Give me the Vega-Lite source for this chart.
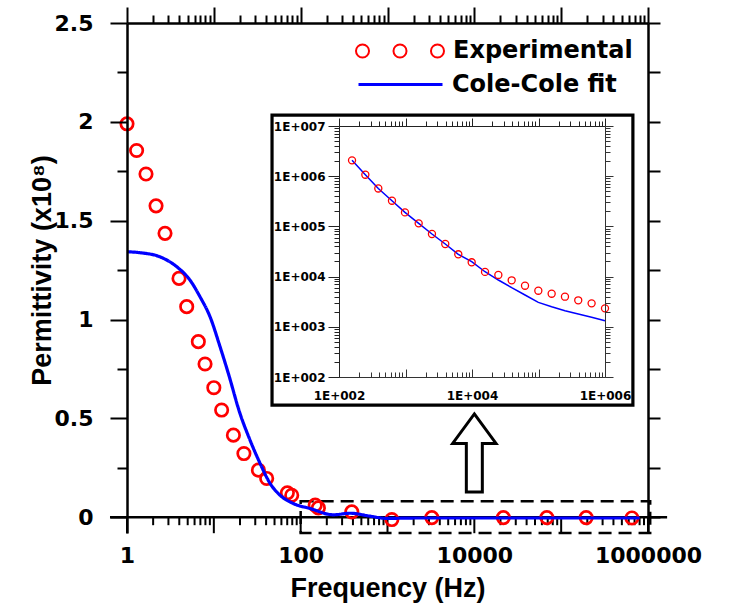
{
  "$schema": "https://vega.github.io/schema/vega-lite/v6.json",
  "width": 521,
  "height": 510,
  "autosize": {"type": "none"},
  "padding": {"left": 127, "top": 23, "right": 82, "bottom": 73},
  "background": "white",
  "config": {
    "view": {"stroke": null},
    "axis": {"grid": false, "domainColor": "black", "tickColor": "black", "labelColor": "black", "titleColor": "black", "labelFont": "DejaVu Sans", "labelFontWeight": "bold", "titleFont": "Liberation Sans", "titleFontWeight": "bold"}
  },
  "datasets": {
    "main_exp": [
      {"f": 1, "v": 1.99, "series": "Experimental"},
      {"f": 1.29, "v": 1.855, "series": "Experimental"},
      {"f": 1.655, "v": 1.736, "series": "Experimental"},
      {"f": 2.16, "v": 1.575, "series": "Experimental"},
      {"f": 2.74, "v": 1.436, "series": "Experimental"},
      {"f": 3.97, "v": 1.208, "series": "Experimental"},
      {"f": 4.87, "v": 1.065, "series": "Experimental"},
      {"f": 6.63, "v": 0.888, "series": "Experimental"},
      {"f": 7.92, "v": 0.775, "series": "Experimental"},
      {"f": 10, "v": 0.655, "series": "Experimental"},
      {"f": 12.3, "v": 0.542, "series": "Experimental"},
      {"f": 16.8, "v": 0.415, "series": "Experimental"},
      {"f": 22.2, "v": 0.322, "series": "Experimental"},
      {"f": 32.6, "v": 0.238, "series": "Experimental"},
      {"f": 40.6, "v": 0.196, "series": "Experimental"},
      {"f": 70.3, "v": 0.123, "series": "Experimental"},
      {"f": 78.9, "v": 0.111, "series": "Experimental"},
      {"f": 147, "v": 0.061, "series": "Experimental"},
      {"f": 160, "v": 0.047, "series": "Experimental"},
      {"f": 388, "v": 0.027, "series": "Experimental"},
      {"f": 1122, "v": -0.012, "series": "Experimental"},
      {"f": 3240, "v": -0.002, "series": "Experimental"},
      {"f": 21600, "v": -0.002, "series": "Experimental"},
      {"f": 68400, "v": -0.002, "series": "Experimental"},
      {"f": 194000, "v": -0.002, "series": "Experimental"},
      {"f": 653000, "v": -0.004, "series": "Experimental"}
    ],
    "main_fit": [
      {"f": 1, "v": 1.343, "series": "Cole-Cole fit"},
      {"f": 1.41, "v": 1.338, "series": "Cole-Cole fit"},
      {"f": 2.4, "v": 1.317, "series": "Cole-Cole fit"},
      {"f": 3.74, "v": 1.267, "series": "Cole-Cole fit"},
      {"f": 5.32, "v": 1.199, "series": "Cole-Cole fit"},
      {"f": 6.93, "v": 1.115, "series": "Cole-Cole fit"},
      {"f": 9.04, "v": 1.014, "series": "Cole-Cole fit"},
      {"f": 11.8, "v": 0.862, "series": "Cole-Cole fit"},
      {"f": 14.7, "v": 0.727, "series": "Cole-Cole fit"},
      {"f": 20, "v": 0.525, "series": "Cole-Cole fit"},
      {"f": 26.1, "v": 0.39, "series": "Cole-Cole fit"},
      {"f": 34.1, "v": 0.272, "series": "Cole-Cole fit"},
      {"f": 44.4, "v": 0.171, "series": "Cole-Cole fit"},
      {"f": 57.9, "v": 0.111, "series": "Cole-Cole fit"},
      {"f": 82.4, "v": 0.069, "series": "Cole-Cole fit"},
      {"f": 128, "v": 0.044, "series": "Cole-Cole fit"},
      {"f": 238, "v": 0.012, "series": "Cole-Cole fit"},
      {"f": 371, "v": 0.02, "series": "Cole-Cole fit"},
      {"f": 631, "v": 0.005, "series": "Cole-Cole fit"},
      {"f": 982, "v": -0.006, "series": "Cole-Cole fit"},
      {"f": 2375, "v": -0.004, "series": "Cole-Cole fit"},
      {"f": 800000, "v": -0.004, "series": "Cole-Cole fit"}
    ],
    "x_major": [
      {"f": 1}, {"f": 10}, {"f": 100}, {"f": 1000}, {"f": 10000}, {"f": 100000}, {"f": 1000000}
    ],
    "x_minor": [
      {"f": 2}, {"f": 3}, {"f": 4}, {"f": 5}, {"f": 6}, {"f": 7}, {"f": 8}, {"f": 9},
      {"f": 20}, {"f": 30}, {"f": 40}, {"f": 50}, {"f": 60}, {"f": 70}, {"f": 80}, {"f": 90},
      {"f": 200}, {"f": 300}, {"f": 400}, {"f": 500}, {"f": 600}, {"f": 700}, {"f": 800}, {"f": 900},
      {"f": 2000}, {"f": 3000}, {"f": 4000}, {"f": 5000}, {"f": 6000}, {"f": 7000}, {"f": 8000}, {"f": 9000},
      {"f": 20000}, {"f": 30000}, {"f": 40000}, {"f": 50000}, {"f": 60000}, {"f": 70000}, {"f": 80000}, {"f": 90000},
      {"f": 200000}, {"f": 300000}, {"f": 400000}, {"f": 500000}, {"f": 600000}, {"f": 700000}, {"f": 800000}, {"f": 900000}
    ],
    "inset_exp": [
      {"f": 157, "v": 2070000},
      {"f": 249, "v": 1070000},
      {"f": 390, "v": 570000},
      {"f": 626, "v": 325000},
      {"f": 982, "v": 190000},
      {"f": 1578, "v": 115000},
      {"f": 2500, "v": 70600},
      {"f": 3963, "v": 44600},
      {"f": 6220, "v": 27800},
      {"f": 9890, "v": 19300},
      {"f": 15700, "v": 12400},
      {"f": 24900, "v": 10800},
      {"f": 39500, "v": 8430},
      {"f": 62700, "v": 6590},
      {"f": 99400, "v": 5240},
      {"f": 157700, "v": 4560},
      {"f": 250000, "v": 3980},
      {"f": 396000, "v": 3370},
      {"f": 629000, "v": 2930},
      {"f": 1000000, "v": 2330}
    ],
    "inset_fit": [
      {"f": 157, "v": 2070000},
      {"f": 249, "v": 1070000},
      {"f": 390, "v": 570000},
      {"f": 626, "v": 325000},
      {"f": 982, "v": 190000},
      {"f": 1578, "v": 115000},
      {"f": 2500, "v": 70600},
      {"f": 3963, "v": 44600},
      {"f": 6220, "v": 27800},
      {"f": 9890, "v": 19800},
      {"f": 15700, "v": 12500},
      {"f": 24900, "v": 8550},
      {"f": 39500, "v": 6010},
      {"f": 62700, "v": 4300},
      {"f": 99400, "v": 3070},
      {"f": 157700, "v": 2510},
      {"f": 250000, "v": 2090},
      {"f": 396000, "v": 1800},
      {"f": 629000, "v": 1545},
      {"f": 1000000, "v": 1320}
    ]
  },
  "resolve": {"scale": {"x": "independent", "y": "independent"}, "axis": {"x": "independent", "y": "independent"}},
  "layer": [
    {
      "data": {"values": [{}]},
      "mark": {"type": "rect", "fill": "white", "fillOpacity": 0, "stroke": "black", "strokeWidth": 2.5, "strokeDash": [13, 7]},
      "encoding": {
        "x": {"datum": 100, "type": "quantitative", "scale": {"type": "log", "domain": [1, 1000000], "nice": false}, "axis": null},
        "x2": {"datum": 1060000},
        "y": {"datum": 0.081, "type": "quantitative", "scale": {"domain": [-0.08, 2.5], "nice": false, "zero": false}, "axis": null},
        "y2": {"datum": -0.08}
      }
    },
    {
      "data": {"name": "x_major"},
      "mark": {"type": "rule", "color": "black", "strokeWidth": 2},
      "encoding": {
        "x": {"field": "f", "type": "quantitative", "scale": {"type": "log", "domain": [1, 1000000], "nice": false}, "axis": null},
        "y": {"datum": 0, "type": "quantitative", "scale": {"domain": [-0.08, 2.5], "nice": false, "zero": false}, "axis": null},
        "y2": {"datum": -0.081}
      }
    },
    {
      "data": {"name": "x_minor"},
      "mark": {"type": "rule", "color": "black", "strokeWidth": 2},
      "encoding": {
        "x": {"field": "f", "type": "quantitative", "scale": {"type": "log", "domain": [1, 1000000], "nice": false}, "axis": null},
        "y": {"datum": 0, "type": "quantitative", "scale": {"domain": [-0.08, 2.5], "nice": false, "zero": false}, "axis": null},
        "y2": {"datum": -0.0405}
      }
    },
    {
      "data": {"values": [{}]},
      "mark": {"type": "rule", "color": "black", "strokeWidth": 2.5},
      "encoding": {
        "x": {"datum": 0.637, "type": "quantitative", "scale": {"type": "log", "domain": [1, 1000000], "nice": false}, "axis": null},
        "x2": {"datum": 1660000},
        "y": {"datum": 0, "type": "quantitative", "scale": {"domain": [-0.08, 2.5], "nice": false, "zero": false}, "axis": null}
      }
    },
    {
      "data": {"name": "main_exp"},
      "mark": {"type": "point", "filled": false, "size": 154, "strokeWidth": 2.7, "opacity": 1},
      "encoding": {
        "x": {"field": "f", "type": "quantitative", "scale": {"type": "log", "domain": [1, 1000000], "nice": false},
          "axis": {"orient": "bottom", "offset": -16, "zindex": 1, "domain": false, "ticks": false,
            "values": [1, 100, 10000, 1000000],
            "labelExpr": "toString(datum.value)",
            "labelFontSize": 22, "labelPadding": 28, "labelOverlap": false, "labelFlush": false,
            "title": "Frequency (Hz)", "titleFontSize": 27, "titleX": 260.5, "titleY": 79, "titleBaseline": "alphabetic", "titleAlign": "center"}},
        "y": {"field": "v", "type": "quantitative", "scale": {"domain": [-0.08, 2.5], "nice": false, "zero": false},
          "axis": {"orient": "left", "zindex": 1, "domainWidth": 2.5, "tickWidth": 2, "tickColor": "#000000", "domainColor": "#000000",
            "values": [0,0.25,0.5,0.75,1,1.25,1.5,1.75,2,2.25,2.5],
            "tickSize": {"condition": {"test": "(datum.value * 2) % 1 == 0", "value": 17}, "value": 10},
            "labelExpr": "(datum.value * 2) % 1 == 0 ? toString(datum.value) : ''",
            "labelFontSize": 22, "labelPadding": 17, "labelOverlap": false, "labelFlush": false,
            "title": "Permittivity (x10⁸)", "titleFontSize": 27, "titleX": -77, "titleY": 247, "titleBaseline": "alphabetic", "titleAlign": "center", "titleAngle": 270}},
        "color": {"field": "series", "type": "nominal", "scale": {"domain": ["Experimental"], "range": ["#ff0000"]},
          "legend": {"orient": "none", "legendX": 228, "legendY": -17, "title": null, "padding": 0, "labelLimit": 0,
            "symbolType": "M-0.704,0A0.148,0.148,0,1,1,-1,0A0.148,0.148,0,1,1,-0.704,0ZM0.148,0A0.148,0.148,0,1,1,-0.148,0A0.148,0.148,0,1,1,0.148,0ZM1,0A0.148,0.148,0,1,1,0.704,0A0.148,0.148,0,1,1,1,0Z",
            "symbolSize": 7744, "symbolStrokeWidth": 2, "symbolStrokeColor": "#ff0000", "symbolFillColor": "transparent",
            "labelFont": "DejaVu Sans", "labelFontSize": 24, "labelFontWeight": "bold", "labelColor": "black", "labelOffset": 8}}
      }
    },
    {
      "data": {"name": "main_fit"},
      "mark": {"type": "line", "color": "#0000ff", "strokeWidth": 3.2, "interpolate": "monotone"},
      "encoding": {
        "x": {"field": "f", "type": "quantitative", "scale": {"type": "log", "domain": [1, 1000000], "nice": false},
          "axis": {"orient": "top", "zindex": 1, "domainWidth": 2.5, "tickWidth": 2, "tickColor": "#000000", "domainColor": "#000000", "labels": false, "title": null,
            "values": [1,2,3,4,5,6,7,8,9,10,20,30,40,50,60,70,80,90,100,200,300,400,500,600,700,800,900,1000,2000,3000,4000,5000,6000,7000,8000,9000,10000,20000,30000,40000,50000,60000,70000,80000,90000,100000,200000,300000,400000,500000,600000,700000,800000,900000,1000000],
            "tickSize": {"condition": {"test": "indexof([1,10,100,1000,10000,100000,1000000], datum.value) >= 0", "value": 16}, "value": 8}}},
        "y": {"field": "v", "type": "quantitative", "scale": {"domain": [-0.08, 2.5], "nice": false, "zero": false},
          "axis": {"orient": "right", "zindex": 1, "domainWidth": 2.5, "tickWidth": 2, "tickColor": "#000000", "domainColor": "#000000", "labels": false, "title": null, "tickSize": 12,
            "values": [0,0.25,0.5,0.75,1,1.25,1.5,1.75,2,2.25,2.5]}},
        "strokeDash": {"field": "series", "type": "nominal", "scale": {"domain": ["Cole-Cole fit"], "range": [[1, 0]]},
          "legend": {"orient": "none", "legendX": 230, "legendY": 18, "title": null, "padding": 0, "labelLimit": 0,
            "symbolType": "stroke", "symbolSize": 7056, "symbolStrokeWidth": 3, "symbolStrokeColor": "#0000ff",
            "labelFont": "DejaVu Sans", "labelFontSize": 24, "labelFontWeight": "bold", "labelColor": "black", "labelOffset": 8}}
      }
    },
    {
      "data": {"values": [{}]},
      "mark": {"type": "point", "shape": "M0,-1L0.556,-0.244L0.205,-0.244L0.205,1L-0.205,1L-0.205,-0.244L-0.556,-0.244Z", "size": 6084, "filled": true, "fill": "white", "stroke": "black", "strokeWidth": 3, "opacity": 1},
      "encoding": {
        "x": {"datum": 10000, "type": "quantitative", "scale": {"type": "log", "domain": [1, 1000000], "nice": false}, "axis": null},
        "y": {"datum": 0.325, "type": "quantitative", "scale": {"domain": [-0.08, 2.5], "nice": false, "zero": false}, "axis": null}
      }
    },
    {
      "data": {"values": [{}]},
      "mark": {"type": "rect", "fill": "white", "stroke": "black", "strokeWidth": 3.2},
      "encoding": {
        "x": {"datum": 46.8, "type": "quantitative", "scale": {"type": "log", "domain": [1, 1000000], "nice": false}, "axis": null},
        "x2": {"datum": 670000},
        "y": {"datum": 2.034, "type": "quantitative", "scale": {"domain": [-0.08, 2.5], "nice": false, "zero": false}, "axis": null},
        "y2": {"datum": 0.567}
      }
    },
    {
      "data": {"name": "inset_fit"},
      "mark": {"type": "line", "color": "#0000ff", "strokeWidth": 1.5},
      "encoding": {
        "x": {"field": "f", "type": "quantitative", "scale": {"type": "log", "domain": [100, 1000000], "nice": false, "range": [212, 478]},
          "axis": {"orient": "top", "offset": -354, "zindex": 1, "domainColor": "#333", "domainWidth": 1, "tickWidth": 1, "tickColor": "#333", "labels": false, "title": null,
            "values": [100,200,300,400,500,600,700,800,900,1000,2000,3000,4000,5000,6000,7000,8000,9000,10000,20000,30000,40000,50000,60000,70000,80000,90000,100000,200000,300000,400000,500000,600000,700000,800000,900000,1000000],
            "tickSize": {"condition": {"test": "indexof([100,1000,10000,100000,1000000], datum.value) >= 0", "value": 8}, "value": 5}}},
        "y": {"field": "v", "type": "quantitative", "scale": {"type": "log", "domain": [100, 10000000], "nice": false, "range": [354, 103]},
          "axis": {"orient": "right", "offset": -43, "zindex": 1, "domainColor": "#333", "domainWidth": 1, "tickWidth": 1, "tickColor": "#333", "labels": false, "title": null,
            "values": [100,200,300,400,500,600,700,800,900,1000,2000,3000,4000,5000,6000,7000,8000,9000,10000,20000,30000,40000,50000,60000,70000,80000,90000,100000,200000,300000,400000,500000,600000,700000,800000,900000,1000000,2000000,3000000,4000000,5000000,6000000,7000000,8000000,9000000,10000000],
            "tickSize": {"condition": {"test": "indexof([100,1000,10000,100000,1000000,10000000], datum.value) >= 0", "value": 8}, "value": 5}}}
      }
    },
    {
      "data": {"name": "inset_exp"},
      "mark": {"type": "point", "filled": false, "color": "#ff0000", "size": 50, "strokeWidth": 1.3, "opacity": 1},
      "encoding": {
        "x": {"field": "f", "type": "quantitative", "scale": {"type": "log", "domain": [100, 1000000], "nice": false, "range": [212, 478]},
          "axis": {"orient": "bottom", "offset": -156, "zindex": 1, "domain": false, "ticks": false, "title": null,
            "values": [100, 10000, 1000000],
            "labelExpr": "'1E+00' + round(log(datum.value) / LN10)",
            "labelFontSize": 12, "labelPadding": 13, "labelOverlap": false, "labelFlush": false}},
        "y": {"field": "v", "type": "quantitative", "scale": {"type": "log", "domain": [100, 10000000], "nice": false, "range": [354, 103]},
          "axis": {"orient": "left", "offset": -212, "zindex": 1, "domainColor": "#222", "domainWidth": 1, "tickWidth": 1, "tickColor": "#222", "title": null,
            "values": [100,200,300,400,500,600,700,800,900,1000,2000,3000,4000,5000,6000,7000,8000,9000,10000,20000,30000,40000,50000,60000,70000,80000,90000,100000,200000,300000,400000,500000,600000,700000,800000,900000,1000000,2000000,3000000,4000000,5000000,6000000,7000000,8000000,9000000,10000000],
            "tickSize": {"condition": {"test": "indexof([100,1000,10000,100000,1000000,10000000], datum.value) >= 0", "value": 11}, "value": 5},
            "labelExpr": "indexof([100,1000,10000,100000,1000000,10000000], datum.value) >= 0 ? '1E+00' + round(log(datum.value) / LN10) : ''",
            "labelFontSize": 12, "labelPadding": 3, "labelOverlap": false, "labelFlush": false}}
      }
    },
    {
      "data": {"name": "inset_exp"},
      "mark": {"type": "point", "opacity": 0},
      "encoding": {
        "x": {"field": "f", "type": "quantitative", "scale": {"type": "log", "domain": [100, 1000000], "nice": false, "range": [212, 478]},
          "axis": {"orient": "top", "offset": -103, "zindex": 1, "domainColor": "#222", "domainWidth": 1, "tickWidth": 1, "tickColor": "#222", "labels": false, "title": null,
            "values": [100,200,300,400,500,600,700,800,900,1000,2000,3000,4000,5000,6000,7000,8000,9000,10000,20000,30000,40000,50000,60000,70000,80000,90000,100000,200000,300000,400000,500000,600000,700000,800000,900000,1000000],
            "tickSize": {"condition": {"test": "indexof([100,1000,10000,100000,1000000], datum.value) >= 0", "value": 8}, "value": 5}}},
        "y": {"field": "v", "type": "quantitative", "scale": {"type": "log", "domain": [100, 10000000], "nice": false, "range": [354, 103]}, "axis": null}
      }
    }
  ]
}
